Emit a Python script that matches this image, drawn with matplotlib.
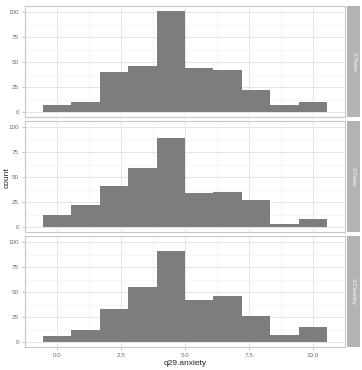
import numpy as np
import matplotlib
matplotlib.use("Agg")
import matplotlib.pyplot as plt

plt.rcParams["font.family"] = ["Liberation Sans", "DejaVu Sans"]

# bin counts per facet
panels = ["1.Town", "2.Farm", "3.Country"]
town = [7, 10, 40, 46, 101, 44, 42, 22, 7, 10]
farm = [12, 22, 41, 59, 89, 34, 35, 27, 3, 8]
country = [6, 12, 33, 55, 91, 42, 46, 26, 7, 15]
counts = [town, farm, country]
edges = np.linspace(-5 / 9, 10 + 5 / 9, 11)

xticks = [0.0, 2.5, 5.0, 7.5, 10.0]
yticks = [0, 25, 50, 75, 100]

W, H = 362, 370
fig = plt.figure(figsize=(W / 100, H / 100), dpi=100)

left, right = 25, 345
tops = [6, 121, 236]
ph = 111

for i, (name, c) in enumerate(zip(panels, counts)):
    ax = fig.add_axes([left / W, 1 - (tops[i] + ph) / H, (right - left) / W, ph / H])
    ax.stairs(c, edges, fill=True, color="#7d7d7d", zorder=2)
    ax.set_xlim(-1.11, 11.11)
    ax.set_ylim(-5, 106)
    ax.set_xticks(xticks)
    ax.set_yticks(yticks)
    ax.set_xticks([-1.25, 1.25, 3.75, 6.25, 8.75, 11.25], minor=True)
    ax.set_yticks([12.5, 37.5, 62.5, 87.5], minor=True)
    ax.grid(True, which="major", color="#e0e0e0", lw=0.6, zorder=0)
    ax.grid(True, which="minor", color="#f0f0f0", lw=0.4, zorder=0)
    for s in ax.spines.values():
        s.set_color("#c8c8c8")
        s.set_linewidth(0.8)
    ax.tick_params(which="both", length=0, pad=2.5, labelsize=4.5, labelcolor="#6a6a6a")
    ax.tick_params(axis="x", which="major", length=2, color="#c8c8c8")
    ax.tick_params(axis="y", which="major", length=2, color="#c8c8c8")
    ax.set_yticklabels(["0", "25", "50", "75", "100"])
    if i < 2:
        ax.set_xticklabels([])
        ax.tick_params(axis="x", length=0)
    else:
        ax.set_xticklabels(["0.0", "2.5", "5.0", "7.5", "10.0"])
        ax.set_xlabel("q29.anxiety", fontsize=6, color="#222222", labelpad=1)

    # facet strip on the right
    sx = fig.add_axes([347 / W, 1 - (tops[i] + ph) / H, 13 / W, ph / H])
    sx.set_facecolor("#b3b3b3")
    sx.set_xticks([])
    sx.set_yticks([])
    for s in sx.spines.values():
        s.set_visible(False)
    sx.text(0.5, 0.5, name, rotation=-90, ha="center", va="center",
            color="white", fontsize=4.5, transform=sx.transAxes)

fig.text(7 / W, 1 - 178 / H, "count", rotation=90, ha="center", va="center",
         fontsize=6, color="#222222")

fig.savefig("out.png", dpi=100, facecolor="white")
